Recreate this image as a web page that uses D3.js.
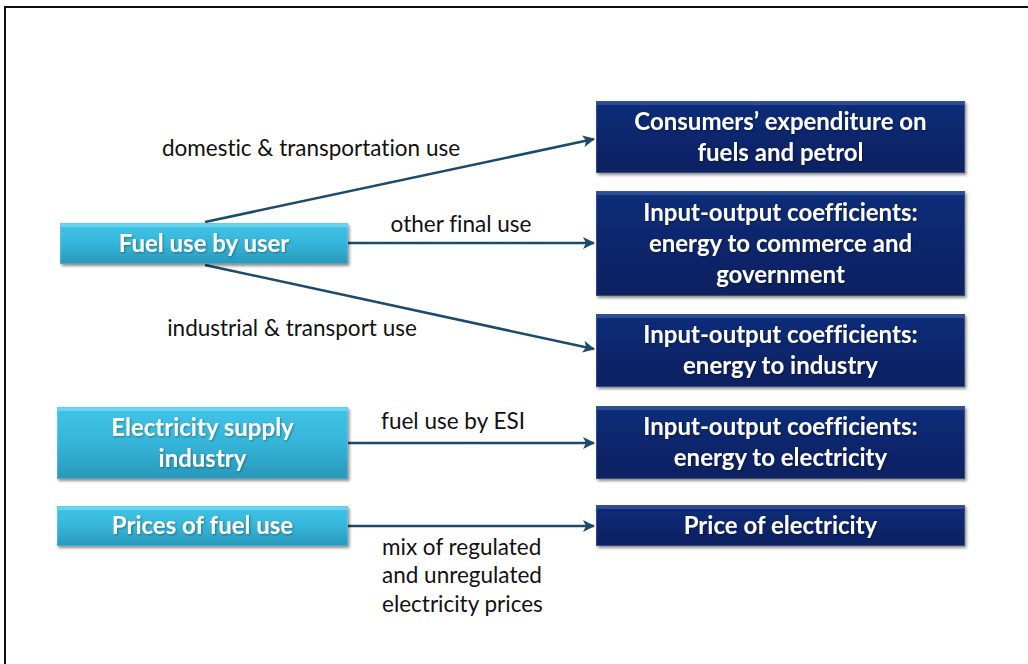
<!DOCTYPE html>
<html><head><meta charset="utf-8">
<script src="https://cdn.jsdelivr.net/npm/d3@7/dist/d3.min.js"></script>
<style>body{margin:0;background:#fff}svg{display:block}text{font-variant-ligatures:none;font-feature-settings:"liga" 0,"clig" 0,"dlig" 0}</style>
</head><body>
<svg id="c" width="1028" height="664"></svg>
<script>
// ---- data ----
const sourceNodes = ["Fuel use by user", "Electricity supply\nindustry", "Prices of fuel use"];
const targetNodes = ["Consumers’ expenditure on\nfuels and petrol",
  "Input-output coefficients:\nenergy to commerce and\ngovernment",
  "Input-output coefficients:\nenergy to industry",
  "Input-output coefficients:\nenergy to electricity",
  "Price of electricity"];
const linkSources = [0, 0, 0, 1, 2];
const linkTargets = [0, 1, 2, 3, 4];
const linkLabels = ["domestic & transportation use", "other final use", "industrial & transport use",
  "fuel use by ESI", "mix of regulated\nand unregulated\nelectricity prices"];

// ---- layout ----
const svg = d3.select("#c");
const W = 1028, H = 664;
const srcBox = [{x0:60,x1:348,y0:223,y1:264},{x0:57,x1:348,y0:407,y1:479},{x0:57,x1:348,y0:506,y1:546}];
const tgtBox = [{y0:101,y1:173},{y0:191,y1:296},{y0:314,y1:387},{y0:406,y1:479},{y0:505,y1:546}];
const tgtX0 = 596, tgtX1 = 965;
const linkStart = [{x:205,y:222},{x:348,y:243},{x:205,y:265},{x:348,y:443},{x:348,y:526}];
const linkEndY = [139, 243, 349, 443, 526];
const labelPos = [{x:311,y:148,a:"middle"},{x:461,y:224,a:"middle"},{x:292,y:328,a:"middle"},{x:453,y:421,a:"middle"},{x:382,y:547,a:"start"}];

const defs = svg.append("defs");
function grad(id, stops){
  const g = defs.append("linearGradient").attr("id", id).attr("x1",0).attr("y1",0).attr("x2",0).attr("y2",1);
  stops.forEach(s => g.append("stop").attr("offset", s[0]).attr("stop-color", s[1]));
}
grad("gCyan", [[0,"#40c4e7"],[0.5,"#36b5d9"],[1,"#2898ba"]]);
grad("gNavy", [[0,"#0e2e7a"],[0.5,"#0a266d"],[1,"#082061"]]);
const f = defs.append("filter").attr("id","sh").attr("x","-10%").attr("y","-20%").attr("width","130%").attr("height","150%");
f.append("feDropShadow").attr("dx",1.5).attr("dy",2).attr("stdDeviation",1.8).attr("flood-color","#000").attr("flood-opacity",0.45);
const tf = defs.append("filter").attr("id","tsh").attr("x","-5%").attr("y","-20%").attr("width","110%").attr("height","150%");
tf.append("feDropShadow").attr("dx",1).attr("dy",1).attr("stdDeviation",0.8).attr("flood-color","#000").attr("flood-opacity",0.35);
defs.append("marker").attr("id","arr").attr("viewBox","0 0 12 12").attr("refX",11).attr("refY",6)
  .attr("markerWidth",12).attr("markerHeight",12).attr("markerUnits","userSpaceOnUse").attr("orient","auto")
  .append("path").attr("d","M0,0 L12,6 L0,12 L3,6 Z").attr("fill","#1b4a6e");

// frame
svg.append("rect").attr("x",5).attr("y",7).attr("width",W+10).attr("height",H+10)
  .attr("fill","none").attr("stroke","#111").attr("stroke-width",2);

// links
const links = linkSources.map((s,i)=>({s, t:linkTargets[i], label:linkLabels[i], i}));
svg.append("g").selectAll("line").data(links).join("line")
  .attr("x1", d=>linkStart[d.i].x).attr("y1", d=>linkStart[d.i].y)
  .attr("x2", tgtX0-2).attr("y2", d=>linkEndY[d.t])
  .attr("stroke","#1b4a6e").attr("stroke-width",2.5).attr("marker-end","url(#arr)");

// link labels
const lg = svg.append("g").attr("font-family","Lato, 'Open Sans', sans-serif").attr("font-size",22.5).attr("fill","#111");
links.forEach(d=>{
  const p = labelPos[d.i];
  const t = lg.append("text").attr("x",p.x).attr("y",p.y).attr("text-anchor",p.a);
  d.label.split("\n").forEach((l,k)=>t.append("tspan").attr("x",p.x).attr("y",p.y + k*28.5).attr("dy","0.35em").text(l));
});

// boxes
function drawBox(g, b, fillId, hi, lines, size){
  g.append("rect").attr("x",b.x0).attr("y",b.y0).attr("width",b.x1-b.x0).attr("height",b.y1-b.y0)
    .attr("fill",`url(#${fillId})`).attr("filter","url(#sh)");
  g.append("rect").attr("x",b.x0+1).attr("y",b.y0+1).attr("width",b.x1-b.x0-2).attr("height",3)
    .attr("fill",hi).attr("opacity",0.55);
  g.append("rect").attr("x",b.x0+0.5).attr("y",b.y0+0.5).attr("width",b.x1-b.x0-1).attr("height",b.y1-b.y0-1)
    .attr("fill","none").attr("stroke","#ffffff").attr("stroke-opacity",0.18);
  const cx = (b.x0+b.x1)/2, cy = (b.y0+b.y1)/2, lh = 31;
  const t = g.append("text").attr("text-anchor","middle").attr("fill","#fff").attr("filter","url(#tsh)")
    .attr("font-family","Lato, 'Open Sans', sans-serif").attr("font-weight","bold").attr("font-size",size);
  lines.forEach((l,k)=>t.append("tspan").attr("x",cx).attr("y",cy + (k-(lines.length-1)/2)*lh).attr("dy","0.35em").text(l));
}
const bg = svg.append("g");
sourceNodes.forEach((n,i)=>drawBox(bg, srcBox[i], "gCyan", "#8fe2f5", n.split("\n"), 24));
targetNodes.forEach((n,i)=>drawBox(bg, {x0:tgtX0,x1:tgtX1,y0:tgtBox[i].y0,y1:tgtBox[i].y1}, "gNavy", "#4a66a8", n.split("\n"), 24));
</script>
</body></html>
